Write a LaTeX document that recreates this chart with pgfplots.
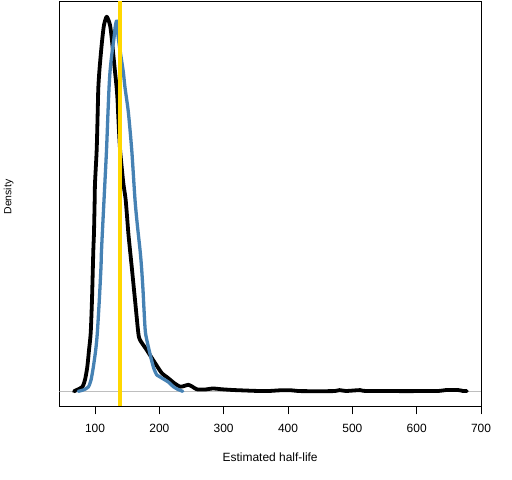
\documentclass[border=0pt]{standalone}
\usepackage{pgfplots}
\pgfplotsset{compat=1.18}
\usepackage{fontspec}
\setmainfont{Liberation Sans}
\definecolor{steel}{RGB}{70,130,180}
\definecolor{gold}{RGB}{255,215,0}
\definecolor{zerogray}{RGB}{190,190,190}
\begin{document}
\begin{tikzpicture}[x=1bp,y=1bp]
\useasboundingbox (0,0) rectangle (512,480);
\begin{axis}[
  at={(59.3bp,74bp)}, anchor=south west,
  scale only axis, width=421.7bp, height=404.7bp,
  xmin=44.5, xmax=700, ymin=-14.7, ymax=390,
  xtick={100,200,300,400,500,600,700}, ytick=\empty,
  xtick pos=left, tick align=outside, major tick length=8.5bp,
  axis line style={line width=0.8bp},
  every tick/.style={black, line width=0.8bp},
  /pgf/number format/assume math mode=true,
  xticklabel style={font=\fontsize{12}{14}\selectfont, anchor=base, yshift=-18bp},
  xlabel={Estimated half-life},
  ylabel={Density},
  xlabel style={at={(axis description cs:0.5,-0.13763)}, anchor=base, font=\fontsize{12}{14}\selectfont},
  ylabel style={at={(axis description cs:-0.11335,0.5164)}, anchor=base, rotate=0, font=\fontsize{10.5}{12}\selectfont},
  clip=true,
]
\addplot[zerogray, line width=1bp] coordinates {(44.5,0) (700,0)};
\addplot[black, line width=3.8bp, line join=round, line cap=round, smooth, tension=0.4] coordinates {
(67.3,0)(71.5,1.3)(80.2,4.3)(84.4,11.3)(88.0,24.3)(90.7,41.3)(93.3,58.3)(95.3,91.3)(97.4,141.3)(98.4,158.3)(99.5,191.3)(100.0,208.3)(102.6,241.3)(104.2,279.6)(105.1,303)(106.7,319.6)(108.9,336.3)(111.4,353)(114.0,366.3)(118.2,374.6)(123.3,366.3)(126.0,353)(128.5,336.3)(131.1,319.6)(133.7,303)(135.0,291.3)(136.2,274.3)(139.0,241.3)(144.0,208.3)(147.7,191.3)(151.8,158.3)(154.4,141.3)(157.1,124.3)(162.2,91.3)(167.3,58.3)(170.0,51.3)(180.4,41.3)(193.3,28.3)(203.7,18.3)(213.5,13.3)(222.9,8.3)(232.2,4.6)(238.4,5.3)(245.1,6.5)(250.9,4.8)(258.2,2.0)(271.1,1.8)(283.5,2.8)(297.5,2.0)(314.6,1.3)(333.3,0.8)(350,0.4)(370,0.3)(388,1.0)(405,1.0)(420,0.2)(470,0.2)(480,1.2)(490,0.3)(512,1.2)(522,0.3)(600,0.2)(635,0.4)(645,1.2)(665,1.2)(672,0.3)(678,0.2)
};
\addplot[steel, line width=3.3bp, line join=round, line cap=round, smooth, tension=0.4] coordinates {
(74.0,0)(81.8,1.3)(89.6,4.3)(93.8,11.3)(97.4,24.3)(101.1,41.3)(103.6,58.3)(106.7,91.3)(109.3,124.3)(109.8,136.3)(111.4,158.3)(114.0,191.3)(117.9,241.3)(120.2,279.3)(121.8,303.3)(123.3,319.3)(126.0,336.3)(129.5,353.3)(131.3,364)(133.7,370.3)(136.2,353.3)(140.0,336.3)(144.0,319.3)(146.7,303.3)(151.8,279.3)(157.1,241.3)(162.2,191.3)(165.8,166.3)(170.0,141.3)(172.3,124.3)(174.6,101.3)(176.2,81.3)(178.5,58.3)(184.8,39.3)(190.7,24.3)(196.0,16.3)(201.1,14.3)(208.9,11.3)(214.0,9.3)(221.8,4.6)(229.1,1.8)(236.4,0)
};
\addplot[gold, line width=3.2bp] coordinates {(139,-20) (139,400)};
\end{axis}
\end{tikzpicture}
\end{document}
